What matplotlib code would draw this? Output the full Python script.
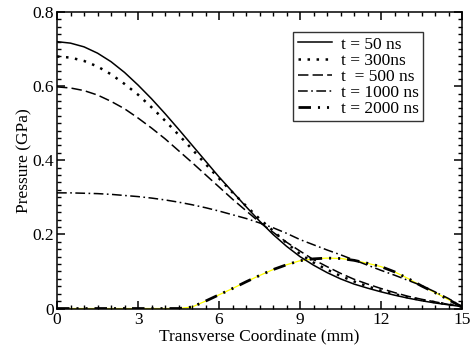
import matplotlib
matplotlib.use("Agg")
import matplotlib.pyplot as plt
from matplotlib.ticker import FixedLocator, MultipleLocator

plt.rcParams["font.family"] = ["Liberation Serif", "DejaVu Serif"]
plt.rcParams["lines.scale_dashes"] = False

# transverse coordinate (mm), every 0.5 mm
x = [0, 0.5, 1, 1.5, 2, 2.5, 3, 3.5, 4, 4.5, 5, 5.5, 6, 6.5, 7, 7.5,
     8, 8.5, 9, 9.5, 10, 10.5, 11, 11.5, 12, 12.5, 13, 13.5, 14, 14.5, 15]

p_50 = [0.720, 0.716, 0.706, 0.689, 0.666, 0.637, 0.603, 0.566, 0.526, 0.484,
        0.441, 0.398, 0.355, 0.315, 0.275, 0.236, 0.200, 0.168, 0.140, 0.117,
        0.097, 0.080, 0.066, 0.055, 0.045, 0.036, 0.028, 0.021, 0.015, 0.010,
        0.005]
p_300 = [0.680, 0.677, 0.668, 0.653, 0.632, 0.606, 0.577, 0.543, 0.507, 0.469,
         0.430, 0.390, 0.351, 0.313, 0.277, 0.242, 0.210, 0.177, 0.147, 0.124,
         0.105, 0.088, 0.073, 0.060, 0.048, 0.039, 0.030, 0.023, 0.017, 0.011,
         0.006]
p_500 = [0.598, 0.595, 0.588, 0.576, 0.559, 0.539, 0.514, 0.487, 0.458, 0.426,
         0.394, 0.361, 0.328, 0.295, 0.264, 0.233, 0.206, 0.179, 0.155, 0.132,
         0.113, 0.095, 0.079, 0.066, 0.054, 0.043, 0.033, 0.025, 0.018, 0.011,
         0.006]
p_1000 = [0.312, 0.312, 0.311, 0.310, 0.308, 0.305, 0.302, 0.298, 0.293, 0.287,
          0.280, 0.272, 0.263, 0.253, 0.243, 0.231, 0.218, 0.203, 0.186, 0.172,
          0.158, 0.145, 0.131, 0.117, 0.103, 0.090, 0.076, 0.062, 0.045, 0.027,
          0.005]
p_2000 = [0, 0, 0, 0, 0, 0, 0, 0, 0, 0, 0.004, 0.020, 0.037, 0.054, 0.072,
          0.089, 0.105, 0.118, 0.129, 0.134, 0.136, 0.135, 0.130, 0.122,
          0.113, 0.099, 0.081, 0.061, 0.043, 0.024, 0.004]

labels = ["t = 50 ns", "t = 300ns", "t  = 500 ns", "t = 1000 ns", "t = 2000 ns"]

fig = plt.figure(figsize=(4.7, 3.49), dpi=100)
ax = fig.add_axes([0.1213, 0.116, 0.8617, 0.8496])

# thin yellow trace under the 2000 ns curve
ax.plot(x, p_2000, color="#ffff00", lw=0.9, zorder=1)

ax.plot(x, p_50, color="black", lw=1.1, label=labels[0], zorder=3)
ax.plot(x, p_300, color="black", lw=1.8, dashes=(1.8, 4.7), label=labels[1], zorder=3)
ax.plot(x, p_500, color="black", lw=1.1, dashes=(7.5, 3), label=labels[2], zorder=3)
ax.plot(x, p_1000, color="black", lw=1.1, dashes=(7, 2.5, 1.2, 2.5), label=labels[3], zorder=3)
ax.plot(x, p_2000, color="black", lw=2.0,
        dashes=(9, 5, 1.5, 5, 1.5, 5), label=labels[4], zorder=2)

ax.set_xlim(0, 15)
ax.set_ylim(0, 0.8)
ax.xaxis.set_major_locator(FixedLocator([0, 3, 6, 9, 12, 15]))
ax.xaxis.set_minor_locator(MultipleLocator(0.5))
ax.yaxis.set_major_locator(FixedLocator([0, 0.2, 0.4, 0.6, 0.8]))
ax.yaxis.set_minor_locator(MultipleLocator(0.02))
ax.set_xticklabels(["0", "3", "6", "9", "12", "15"])
ax.set_yticklabels(["0", "0.2", "0.4", "0.6", "0.8"])

ax.tick_params(which="both", direction="in", top=True, right=True, labelsize=12.5)
ax.tick_params(which="major", length=6, width=1.1, pad=2.5)
ax.tick_params(which="minor", length=3, width=1.0)
for s in ax.spines.values():
    s.set_linewidth(1.1)

ax.set_xlabel("Transverse Coordinate (mm)", fontsize=12.5, labelpad=0)
ax.set_ylabel("Pressure (GPa)", fontsize=12.5, labelpad=0)

leg = ax.legend(loc="upper right", bbox_to_anchor=(0.904, 0.9325), fontsize=12.5,
                frameon=True, fancybox=False, handlelength=2.0,
                handletextpad=0.5, labelspacing=0.0, borderpad=0.25,
                borderaxespad=0)
leg.get_frame().set_edgecolor("black")
leg.get_frame().set_linewidth(1.0)

fig.savefig("out.png", dpi=100)
